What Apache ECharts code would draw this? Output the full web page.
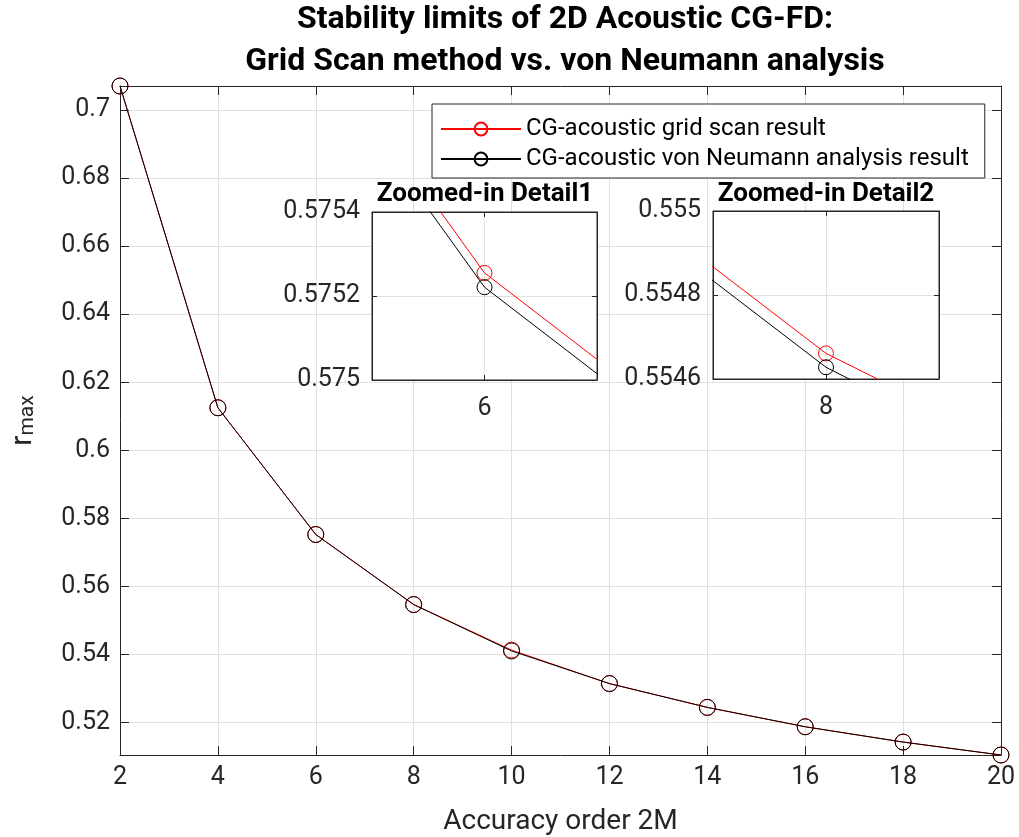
<!DOCTYPE html>
<html>
<head>
<meta charset="utf-8">
<script src="https://cdn.jsdelivr.net/npm/echarts@6/dist/echarts.min.js"></script>
<style>html,body{margin:0;padding:0;background:#fff}#c{width:1019px;height:837px}</style>
</head>
<body>
<div id="c"></div>
<script>
// ---- data ----
const orders = [2, 4, 6, 8, 10, 12, 14, 16, 18, 20];
const gridScan = [0.70711, 0.6125, 0.575255, 0.554661, 0.54125, 0.5314, 0.5244, 0.5187, 0.5142, 0.5104];
const vonNeumann = [0.70711, 0.6125, 0.575221, 0.554628, 0.5410, 0.5314, 0.5244, 0.5187, 0.5142, 0.5104];
const nameGS = 'CG-acoustic grid scan result';
const nameVN = 'CG-acoustic von Neumann analysis result';
const titleText = 'Stability limits of 2D Acoustic CG-FD:\nGrid Scan method vs. von Neumann analysis';
const xName = 'Accuracy order 2M';
const inset1 = {title: 'Zoomed-in Detail1', xmin: 5.98, xmax: 6.02, ymin: 0.5750, ymax: 0.5754};
const inset2 = {title: 'Zoomed-in Detail2', xmin: 7.98, xmax: 8.02, ymin: 0.5546, ymax: 0.5550};

const FONT = 'Roboto';
const AX = '#262626';
const GRIDC = '#e0e0e0';
const pairs = arr => orders.map((x, i) => [x, arr[i]]);
const trim = (v, d) => String(parseFloat(v.toFixed(d)));

function mkX(gi, pos, opt, showLabel, labelFmt, fs, margin, tickLen, z) {
  return Object.assign({
    type: 'value', gridIndex: gi, position: pos, z: z,
    axisLine: {show: true, onZero: false, lineStyle: {color: AX, width: 1}},
    axisTick: {show: true, inside: true, length: tickLen, lineStyle: {color: AX}},
    axisLabel: {show: showLabel, formatter: labelFmt, fontSize: fs, fontFamily: FONT, color: AX, margin: margin, showMinLabel: true, showMaxLabel: true},
    splitLine: {show: pos === 'bottom', lineStyle: {color: GRIDC, width: 1}}
  }, opt);
}
function mkY(gi, pos, opt, showLabel, labelFmt, fs, margin, tickLen, z) {
  return Object.assign({
    type: 'value', gridIndex: gi, position: pos, z: z,
    axisLine: {show: true, onZero: false, lineStyle: {color: AX, width: 1}},
    axisTick: {show: true, inside: true, length: tickLen, lineStyle: {color: AX}},
    axisLabel: {show: showLabel, formatter: labelFmt, fontSize: fs, fontFamily: FONT, color: AX, margin: margin},
    splitLine: {show: pos === 'left', lineStyle: {color: GRIDC, width: 1}}
  }, opt);
}

const ymin = Math.min(...vonNeumann, ...gridScan);
const ymax = Math.max(...vonNeumann, ...gridScan);
const mainYFmt = v => (Math.abs(v / 0.02 - Math.round(v / 0.02)) < 1e-6) ? trim(v, 2) : '';

const xAxes = [
  mkX(0, 'bottom', {min: 2, max: 20, interval: 2, name: xName, nameLocation: 'middle', nameGap: 53,
    nameTextStyle: {fontSize: 28, fontFamily: FONT, color: AX}}, true, v => String(v), 25, 10, 9, 1),
  mkX(0, 'top', {min: 2, max: 20, interval: 2}, false, null, 25, 10, 9, 1),
  mkX(1, 'bottom', {min: inset1.xmin, max: inset1.xmax, interval: 0.02}, true, v => Math.abs(v - 6) < 1e-6 ? '6' : '', 25, 16, 5, 6),
  mkX(1, 'top', {min: inset1.xmin, max: inset1.xmax, interval: 0.02}, false, null, 25, 10, 5, 6),
  mkX(2, 'bottom', {min: inset2.xmin, max: inset2.xmax, interval: 0.02}, true, v => Math.abs(v - 8) < 1e-6 ? '8' : '', 25, 16, 5, 6),
  mkX(2, 'top', {min: inset2.xmin, max: inset2.xmax, interval: 0.02}, false, null, 25, 10, 5, 6)
];
const yAxes = [
  mkY(0, 'left', {min: ymin, max: ymax, splitNumber: 10, name: '{r|r}{s|max}', nameLocation: 'middle', nameGap: 82,
    nameTextStyle: {fontFamily: FONT, color: AX, rich: {
      r: {fontSize: 30, fontFamily: FONT, color: AX, verticalAlign: 'top', lineHeight: 30},
      s: {fontSize: 21, fontFamily: FONT, color: AX, verticalAlign: 'bottom', lineHeight: 22, padding: [16, 0, 0, 0]}
    }}}, true, mainYFmt, 25, 10, 9, 1),
  mkY(0, 'right', {min: ymin, max: ymax, splitNumber: 10}, false, null, 25, 10, 9, 1),
  mkY(1, 'left', {min: inset1.ymin, max: inset1.ymax, interval: 0.0002}, true, v => trim(v, 4), 25, 12, 5, 6),
  mkY(1, 'right', {min: inset1.ymin, max: inset1.ymax, interval: 0.0002}, false, null, 25, 10, 5, 6),
  mkY(2, 'left', {min: inset2.ymin, max: inset2.ymax, interval: 0.0002}, true, v => trim(v, 4), 25, 12, 5, 6),
  mkY(2, 'right', {min: inset2.ymin, max: inset2.ymax, interval: 0.0002}, false, null, 25, 10, 5, 6)
];

function mkSeries(name, arr, color, xi, yi, size, z) {
  return {
    type: 'line', name: name, data: pairs(arr), xAxisIndex: xi, yAxisIndex: yi,
    symbol: 'circle', symbolSize: size, showAllSymbol: true, clip: true, z: z,
    lineStyle: {color: color, width: 1}, itemStyle: {color: 'rgba(255,255,255,0)', borderColor: color, borderWidth: 1},
    emphasis: {disabled: true}
  };
}

const option = {
  animation: false,
  backgroundColor: '#fff',
  title: [
    {text: titleText, left: 560, top: -6, textAlign: 'center',
      textStyle: {fontSize: 32, fontWeight: 'bold', fontFamily: FONT, color: '#000', lineHeight: 42}},
    {text: inset1.title, left: 485, top: 181, textAlign: 'center',
      textStyle: {fontSize: 26, fontWeight: 'bold', fontFamily: FONT, color: '#000'}, padding: 0},
    {text: inset2.title, left: 826, top: 181, textAlign: 'center',
      textStyle: {fontSize: 26, fontWeight: 'bold', fontFamily: FONT, color: '#000'}, padding: 0}
  ],
  legend: {
    orient: 'vertical', left: 432, top: 104, z: 20,
    data: [nameGS, nameVN],
    backgroundColor: '#fff', borderColor: AX, borderWidth: 1, borderRadius: 0,
    padding: [13, 16, 7, 8], itemWidth: 80, itemHeight: 16, itemGap: 6,
    textStyle: {fontSize: 24, fontFamily: FONT, color: '#000'}
  },
  grid: [
    {left: 120, right: 18, top: 86, bottom: 82, containLabel: false, outerBoundsMode: 'none'},
    {left: 372, top: 212, width: 225, height: 168, containLabel: false, outerBoundsMode: 'none', show: true, backgroundColor: '#fff', borderColor: AX, borderWidth: 1, z: 5},
    {left: 713, top: 211, width: 226, height: 168, containLabel: false, outerBoundsMode: 'none', show: true, backgroundColor: '#fff', borderColor: AX, borderWidth: 1, z: 5}
  ],
  xAxis: xAxes,
  yAxis: yAxes,
  series: [
    mkSeries(nameGS, gridScan, '#ff0000', 0, 0, 16, 2),
    mkSeries(nameVN, vonNeumann, '#000000', 0, 0, 16, 3),
    mkSeries(nameGS, gridScan, '#ff0000', 2, 2, 15, 7),
    mkSeries(nameVN, vonNeumann, '#000000', 2, 2, 15, 8),
    mkSeries(nameGS, gridScan, '#ff0000', 4, 4, 15, 7),
    mkSeries(nameVN, vonNeumann, '#000000', 4, 4, 15, 8)
  ]
};
const chart = echarts.init(document.getElementById('c'), null, {renderer: 'canvas'});
chart.setOption(option);
</script>
</body>
</html>
